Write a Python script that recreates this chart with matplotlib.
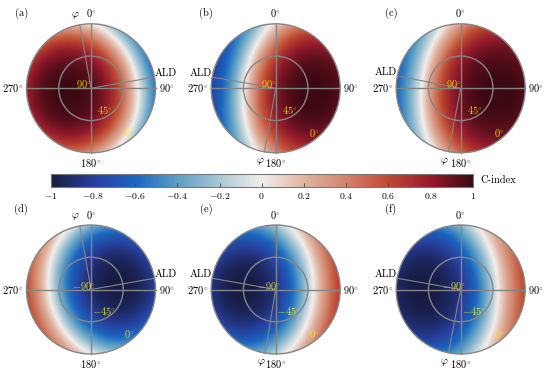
import numpy as np
import matplotlib
matplotlib.use("Agg")
import matplotlib.pyplot as plt
from matplotlib.colors import LinearSegmentedColormap, Normalize
from matplotlib.cm import ScalarMappable
from matplotlib.patches import Circle

plt.rcParams["mathtext.fontset"] = "cm"

# panel data
panels = ["(a)", "(b)", "(c)", "(d)", "(e)", "(f)"]
peak_az = [259, 97, 96, 79, 272, 268]        # azimuth of C extremum, deg
peak_el = [57, 35, 37, 52, 45, 38]           # elevation of C extremum, deg
zero_off = [-0.13, -0.156, -0.30, -0.125, -0.14, -0.25]  # cos of zero-contour distance
gain = [1.3, 1.3, 1.3, 1.1, 1.05, 1.1]       # softness of the saturation
sign = [1, 1, 1, -1, -1, -1]
phi_az = [350, 190, 191, 350, 189.5, 191]    # direction of the phi line
ald_az = [80, 280, 281, 80, 280, 280]        # direction of the ALD line
elev_top = [r"$90^{\circ}$", r"$45^{\circ}$", r"$0^{\circ}$"]
elev_bot = [r"$-90^{\circ}$", r"$-45^{\circ}$", r"$0^{\circ}$"]
az_labels = [r"$0^{\circ}$", r"$90^{\circ}$", r"$180^{\circ}$", r"$270^{\circ}$"]
cbar_ticks = [-1, -0.8, -0.6, -0.4, -0.2, 0, 0.2, 0.4, 0.6, 0.8, 1]

# panel centres in pixels, disc radius in pixels
cx = [91, 275.7, 460.7, 91, 275.7, 460.7]
cy = [88.3, 88.3, 88.3, 289.5, 289.5, 289.5]
R = 64.5
W, H = 550, 377

cmap = LinearSegmentedColormap.from_list("balance", [
    (0.00, "#181c43"), (0.10, "#273f9c"), (0.20, "#1a66c0"),
    (0.30, "#5a9fc6"), (0.40, "#a9c7d4"), (0.50, "#f1eeec"),
    (0.60, "#e1b4a3"), (0.70, "#d2846a"), (0.80, "#bf4a31"),
    (0.90, "#951a2c"), (1.00, "#3c0912")])
norm = Normalize(-1, 1)

fig = plt.figure(figsize=(W / 100, H / 100), dpi=100)

gx = np.linspace(-1, 1, 301)
X, Y = np.meshgrid(gx, gx)
rr = np.hypot(X, Y)
az = np.arctan2(X, Y)
el = np.radians((1 - np.clip(rr, 0, 1)) * 90)
nx, ny, nz = np.cos(el) * np.sin(az), np.cos(el) * np.cos(az), np.sin(el)

grey = "#858585"
txt = dict(fontsize=7.5)
L = 1.05
for i in range(6):
    h = R * L
    ax = fig.add_axes([(cx[i] - h) / W, 1 - (cy[i] + h) / H, 2 * h / W, 2 * h / H])
    ax.set_xlim(-L, L)
    ax.set_ylim(-L, L)
    ax.axis("off")

    pa, pe = np.radians(peak_az[i]), np.radians(peak_el[i])
    cosd = nx * np.cos(pe) * np.sin(pa) + ny * np.cos(pe) * np.cos(pa) + nz * np.sin(pe)
    g = gain[i]
    C = sign[i] * np.tanh(g * (cosd - zero_off[i])) / np.tanh(g * (1 - zero_off[i]))
    C = np.where(rr <= 1.01, np.clip(C, -1, 1), np.nan)
    im = ax.imshow(C, extent=[-1, 1, -1, 1], origin="lower", cmap=cmap, norm=norm,
                   interpolation="bilinear")
    im.set_clip_path(Circle((0, 0), 1, transform=ax.transData))

    ax.add_patch(Circle((0, 0), 1, fill=False, ec=grey, lw=1.0))
    ax.add_patch(Circle((0, 0), 0.5, fill=False, ec=grey, lw=1.0))
    ax.plot([0, 0], [-1, 1], color=grey, lw=1.0)
    ax.plot([-1, 1], [0, 0], color=grey, lw=1.0)
    for a in (phi_az[i], ald_az[i]):
        t = np.radians(a)
        ax.plot([0, np.sin(t)], [0, np.cos(t)], color=grey, lw=0.8)

    # azimuth labels
    ax.text(0, 1.16, az_labels[0], ha="center", va="center", clip_on=False, **txt)
    ax.text(1.05, 0, az_labels[1], ha="left", va="center", clip_on=False, **txt)
    ax.text(0, -1.16, az_labels[2], ha="center", va="center", clip_on=False, **txt)
    ax.text(-1.05, 0, az_labels[3], ha="right", va="center", clip_on=False, **txt)

    # phi and ALD labels
    t = np.radians(phi_az[i])
    ax.text(1.16 * np.sin(t) - 0.04, 1.15 * np.cos(t), r"$\varphi$", ha="center",
            va="center", clip_on=False, **txt)
    t = np.radians(ald_az[i])
    ax.text(np.sin(t), np.cos(t) + 0.06, "ALD",
            ha="left" if np.sin(t) > 0 else "right", va="center", family="cmr10",
            clip_on=False, **txt)

    # panel letter
    ly = 1.16 if i < 3 else 1.25
    ax.text(-1.08, ly, panels[i], ha="center", va="center", family="cmr10",
            clip_on=False, **txt)

    # elevation labels
    labs = elev_top if i < 3 else elev_bot
    pos = [(-0.11, 0.06), (0.22 if i < 3 else 0.2, -0.33), (0.6, -0.69)]
    for s, (px, py) in zip(labs, pos):
        ax.text(px, py, s, ha="center", va="center", color=(1, 0.93, 0.05),
                alpha=0.85, clip_on=False, **txt)

# colorbar
cax = fig.add_axes([50.7 / W, 1 - 186.7 / H, 422 / W, 12.4 / H])
cb = fig.colorbar(ScalarMappable(norm=norm, cmap=cmap), cax=cax, orientation="horizontal",
                  ticks=cbar_ticks)
cb.ax.set_xticklabels([f"${v:g}$" for v in cbar_ticks], fontsize=7)
cb.ax.tick_params(direction="in", length=3, width=0.6, color="#444444", pad=3)
cb.outline.set_edgecolor("#777777")
cb.outline.set_linewidth(0.8)
fig.text(480 / W, 1 - 180.5 / H, "C-index", ha="left", va="center", family="cmr10",
         fontsize=7.5)

fig.savefig("out.png", dpi=100)
